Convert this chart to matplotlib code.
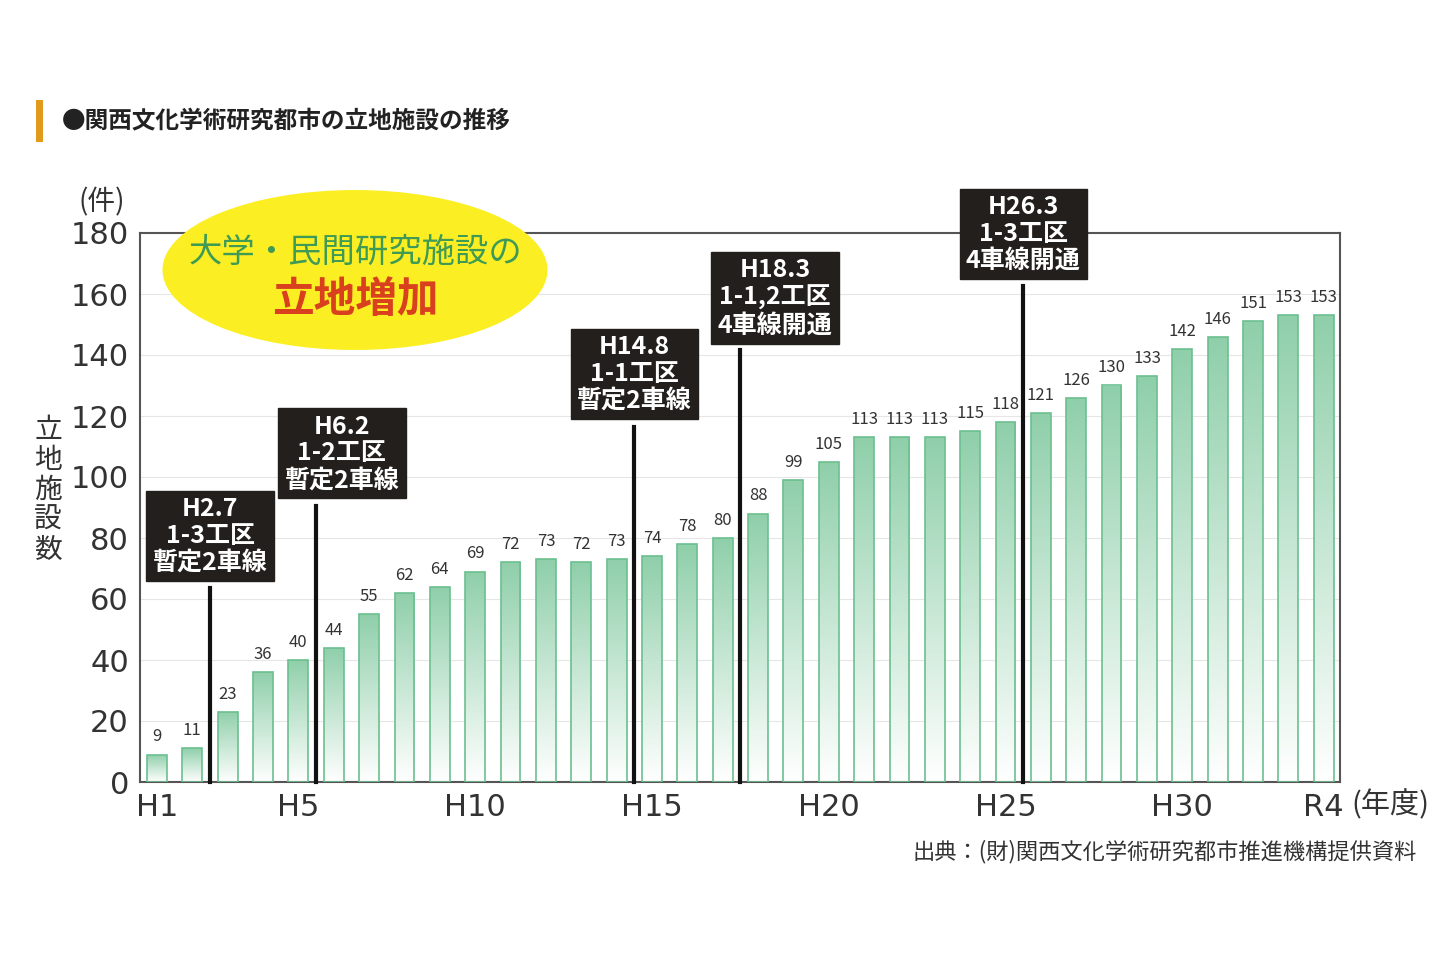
import matplotlib
matplotlib.use("Agg")
import matplotlib.pyplot as plt
import numpy as np
from matplotlib.patches import Rectangle, Ellipse
from matplotlib.colors import LinearSegmentedColormap

plt.rcParams['font.family'] = 'Noto Sans CJK JP'

values = [9, 11, 23, 36, 40, 44, 55, 62, 64, 69, 72, 73, 72, 73, 74, 78, 80, 88, 99, 105,
          113, 113, 113, 115, 118, 121, 126, 130, 133, 142, 146, 151, 153, 153]
tick_pos = [0, 4, 9, 14, 19, 24, 29, 33]
tick_labels = ["H1", "H5", "H10", "H15", "H20", "H25", "H30", "R4"]
events = ["H2.7\n1-3工区\n暫定2車線", "H6.2\n1-2工区\n暫定2車線", "H14.8\n1-1工区\n暫定2車線",
          "H18.3\n1-1,2工区\n4車線開通", "H26.3\n1-3工区\n4車線開通"]
event_x = [1.5, 4.5, 13.5, 16.5, 24.5]
event_box_x = [1.5, 5.23, 13.5, 17.48, 24.5]
event_box_top = [98, 125, 151, 176, 197]

fig = plt.figure(figsize=(14.52, 9.68), dpi=100)
ax = fig.add_axes([140/1452, 1-782/968, 1200/1452, 549/968])
ax.set_xlim(-0.48, 33.46)
ax.set_ylim(0, 180)

cmap = LinearSegmentedColormap.from_list("g", ["#ffffff", "#8fcfaa"])
grad = np.linspace(0, 1, 256).reshape(-1, 1)
w = 0.56
for i, v in enumerate(values):
    r = Rectangle((i - w/2, 0), w, v, facecolor='none', edgecolor='#6bbf8f', lw=1.2, zorder=3)
    ax.add_patch(r)
    im = ax.imshow(grad, cmap=cmap, origin='lower', extent=(i - w/2, i + w/2, 0, v),
                   aspect='auto', zorder=2)
    im.set_clip_path(r)
    ax.text(i, v + 3, str(v), ha='center', va='bottom', fontsize=12, color='#333333', zorder=4)

ax.set_aspect('auto')
for y in range(20, 180, 20):
    ax.axhline(y, color='#e6e6e6', lw=0.8, zorder=1)
for s in ax.spines.values():
    s.set_color('#555555'); s.set_linewidth(1.5)
ax.set_yticks(range(0, 181, 20))
ax.set_yticklabels([str(t) for t in range(0, 181, 20)], fontsize=22, color='#333333',
                   fontfamily='DejaVu Sans')
ax.set_xticks(tick_pos)
ax.set_xticklabels(tick_labels, fontsize=22, color='#333333', fontfamily='DejaVu Sans')
ax.tick_params(length=0, pad=8)

for x, bx, txt, top in zip(event_x, event_box_x, events, event_box_top):
    bh = 34.5
    ax.plot([x, x], [0, top - bh], color='#111111', lw=3, zorder=5, clip_on=False)
    ax.text(bx, top - bh/2, txt, ha='center', va='center', fontsize=18, fontweight='bold',
            color='white', linespacing=1.15, zorder=6, clip_on=False,
            bbox=dict(boxstyle='square,pad=0.25', fc='#231f1c', ec='#231f1c'))

fig.add_artist(Ellipse((355/1452, 1-270/968), 385/1452, 160/968, transform=fig.transFigure,
                       fc='#fbef24', ec='none', zorder=10))
fig.text(355/1452, 1-252/968, "大学・民間研究施設の", ha='center', va='center', fontsize=24,
         color='#3f9a55', zorder=11)
fig.text(355/1452, 1-300/968, "立地増加", ha='center', va='center', fontsize=30,
         fontweight='bold', color='#d9401e', zorder=11)

fig.add_artist(Rectangle((36/1452, 1-142/968), 7/1452, 42/968, transform=fig.transFigure,
                         fc='#e19a1c', ec='none'))
fig.text(62/1452, 1-120/968, "●関西文化学術研究都市の立地施設の推移", fontsize=17,
         fontweight='bold', va='center', color='#222222')
fig.text(102/1452, 1-202/968, "(件)", fontsize=20, ha='center', va='center', color='#333333')
fig.text(48/1452, 1-490/968, "立\n地\n施\n設\n数", fontsize=20, ha='center', va='center',
         color='#333333', linespacing=1.0)
fig.text(1390/1452, 1-805/968, "(年度)", fontsize=21, ha='center', va='center', color='#333333')
fig.text(1417/1452, 1-852/968, "出典：(財)関西文化学術研究都市推進機構提供資料", fontsize=16,
         ha='right', va='center', color='#333333')

fig.savefig("out.png", dpi=100)
